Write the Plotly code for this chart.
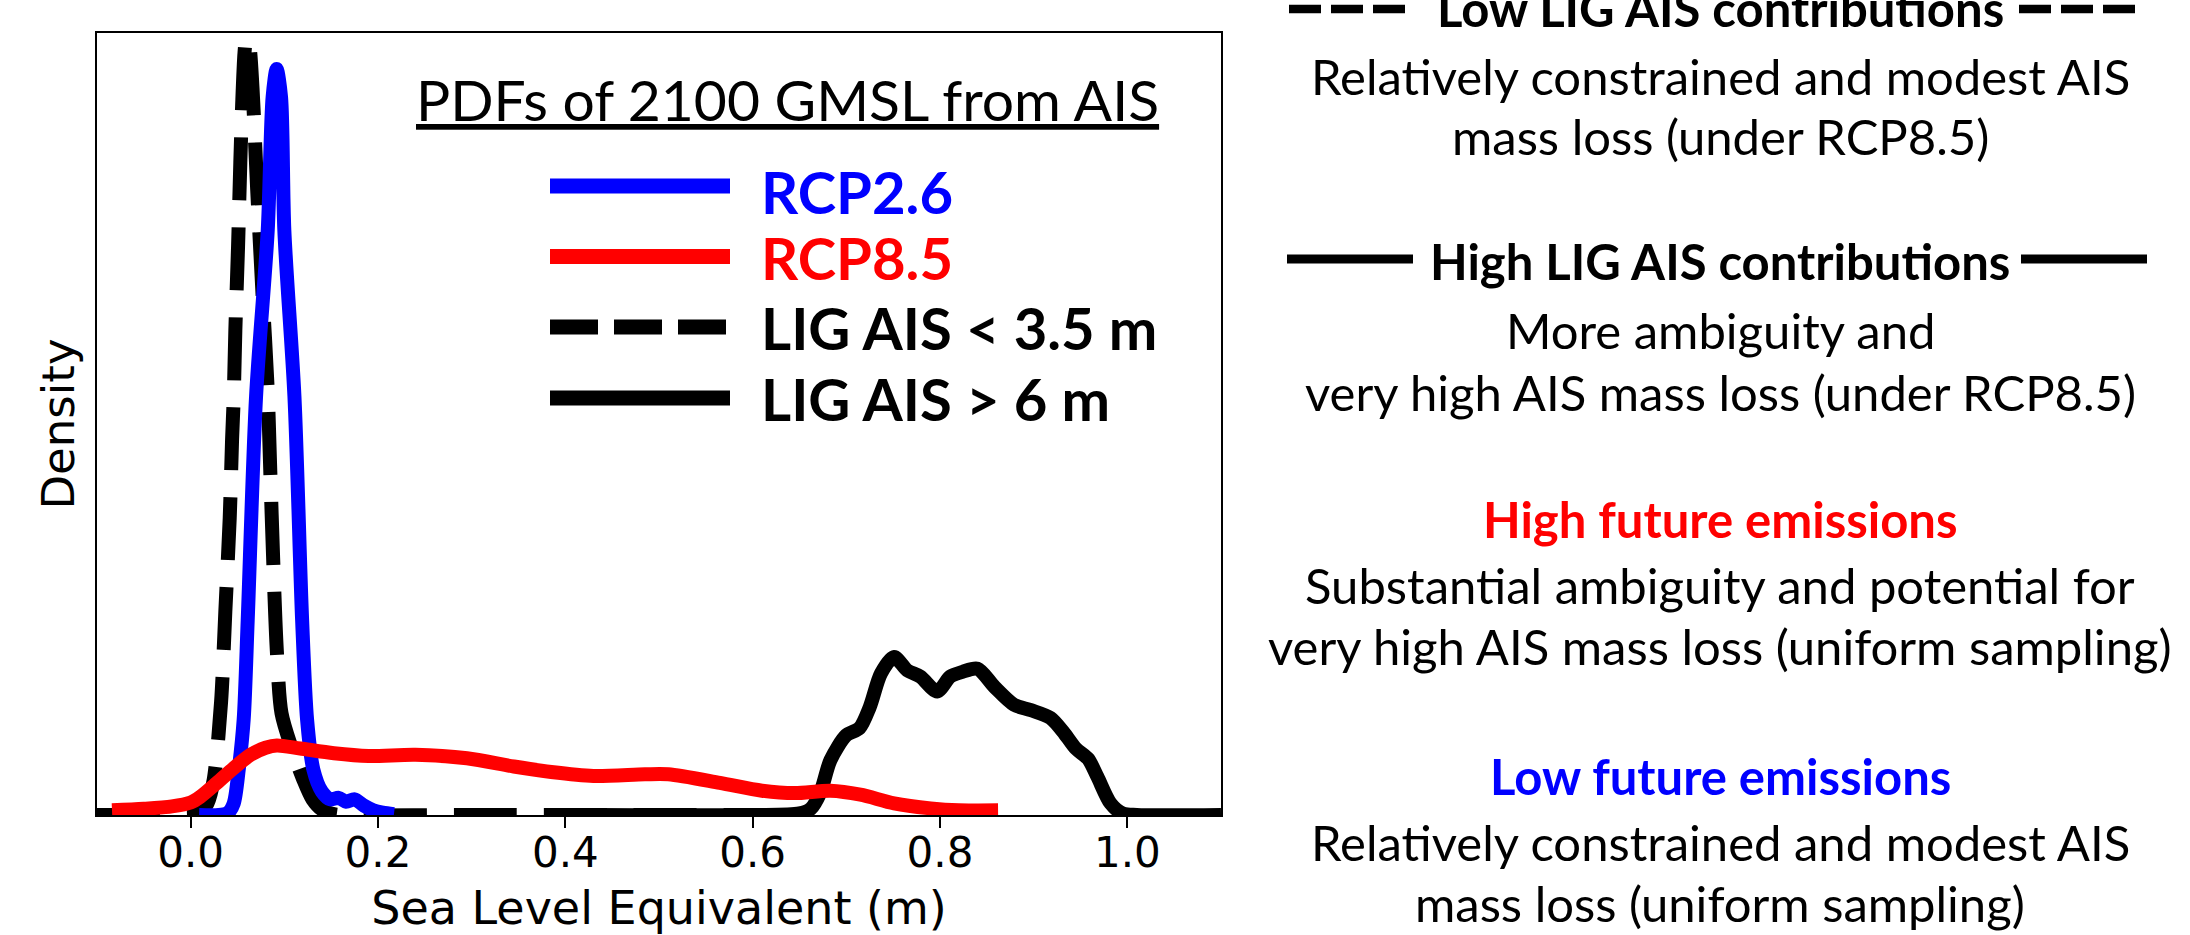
import plotly.graph_objects as go

W, H = 2190, 935

# ---------------- data (normalised density) ----------------
lig_low_x = [-0.100, -0.050, 0.000, 0.010, 0.018, 0.0246, 0.0325, 0.037, 0.0417, 0.0442, 0.046,
             0.0477, 0.0506, 0.053, 0.0549, 0.0575, 0.0595, 0.0625, 0.066, 0.071, 0.077, 0.082,
             0.085, 0.088, 0.092, 0.097, 0.108, 0.120, 0.130, 0.140, 0.150, 0.160, 0.300, 0.450, 0.640]
lig_low_y = [0.0, 0.0, 0.0, 0.003, 0.015, 0.045, 0.145, 0.26, 0.38, 0.48, 0.535,
             0.62, 0.727, 0.834, 0.906, 0.975, 0.995, 0.985, 0.93, 0.80, 0.66, 0.55,
             0.44, 0.33, 0.21, 0.13, 0.085, 0.046, 0.02, 0.007, 0.002, 0.0, 0.0, 0.0, 0.0]

lig_high_x = [0.431, 0.600, 0.650, 0.662, 0.672, 0.683, 0.700, 0.714, 0.725, 0.737, 0.751, 0.765,
              0.779, 0.797, 0.811, 0.824, 0.840, 0.858, 0.879, 0.897, 0.918, 0.933, 0.945, 0.958,
              0.968, 0.982, 0.995, 1.010, 1.100]
lig_high_y = [0.0, 0.0, 0.002, 0.008, 0.028, 0.070, 0.102, 0.111, 0.138, 0.181, 0.202, 0.185,
              0.177, 0.158, 0.177, 0.183, 0.187, 0.164, 0.141, 0.134, 0.124, 0.104, 0.085, 0.072,
              0.049, 0.015, 0.002, 0.0, 0.0]

rcp26_x = [0.009, 0.030, 0.040, 0.046, 0.0513, 0.0566, 0.0609, 0.0698, 0.0823, 0.0875, 0.0918,
           0.0965, 0.1000, 0.1108, 0.119, 0.1243, 0.131, 0.140, 0.149, 0.158, 0.166, 0.175,
           0.185, 0.195, 0.205, 0.217]
rcp26_y = [0.0, 0.0, 0.003, 0.015, 0.058, 0.122, 0.249, 0.535, 0.748, 0.918, 0.954,
           0.918, 0.748, 0.535, 0.249, 0.122, 0.058, 0.030, 0.020, 0.022, 0.017, 0.020,
           0.012, 0.006, 0.003, 0.001]

rcp85_x = [-0.084, -0.050, -0.020, 0.000, 0.010, 0.028, 0.046, 0.064, 0.080, 0.092, 0.117,
           0.153, 0.190, 0.240, 0.295, 0.345, 0.385, 0.430, 0.485, 0.510, 0.565, 0.610,
           0.645, 0.683, 0.715, 0.751, 0.790, 0.820, 0.862]
rcp85_y = [0.006, 0.008, 0.011, 0.016, 0.023, 0.041, 0.060, 0.077, 0.086, 0.089, 0.085,
           0.079, 0.0755, 0.077, 0.0725, 0.062, 0.055, 0.050, 0.052, 0.052, 0.041, 0.031,
           0.028, 0.031, 0.026, 0.015, 0.0085, 0.006, 0.006]

tick_vals = [0.0, 0.2, 0.4, 0.6, 0.8, 1.0]
tick_text = ["0.0", "0.2", "0.4", "0.6", "0.8", "1.0"]

legend_labels = ["RCP2.6", "RCP8.5", "LIG AIS &lt; 3.5 m", "LIG AIS &gt; 6 m"]
legend_title = "PDFs of 2100 GMSL from AIS"

panel_headings = ["Low LIG AIS contributions", "High LIG AIS contributions",
                  "High future emissions", "Low future emissions"]
panel_bodies = [
    ["Relatively constrained and modest AIS", "mass loss (under RCP8.5)"],
    ["More ambiguity and", "very high AIS mass loss (under RCP8.5)"],
    ["Substantial ambiguity and potential for", "very high AIS mass loss (uniform sampling)"],
    ["Relatively constrained and modest AIS", "mass loss (uniform sampling)"],
]

# ---------------- styling ----------------
BLUE, RED, BLACK = "#0000ff", "#ff0000", "#000000"
LW = 14
DASH = "63px,27px"
TICK_FONT = "DejaVu Sans, sans-serif"
TEXT_FONT = "Lato, 'Open Sans', sans-serif"


def fx(px):
    return px / W


def fy(py):
    return 1 - py / H


fig = go.Figure()
fig.add_trace(go.Scatter(x=lig_low_x, y=lig_low_y, mode="lines", name="LIG AIS < 3.5 m",
                         line=dict(color=BLACK, width=LW, dash=DASH, shape="spline", smoothing=0.8)))
fig.add_trace(go.Scatter(x=lig_high_x, y=lig_high_y, mode="lines", name="LIG AIS > 6 m",
                         line=dict(color=BLACK, width=LW, shape="spline", smoothing=0.8)))
fig.add_trace(go.Scatter(x=rcp26_x, y=rcp26_y, mode="lines", name="RCP2.6",
                         line=dict(color=BLUE, width=LW, shape="spline", smoothing=0.8)))
fig.add_trace(go.Scatter(x=rcp85_x, y=rcp85_y, mode="lines", name="RCP8.5",
                         line=dict(color=RED, width=LW, shape="spline", smoothing=0.8)))

shapes = []
annotations = []

# in-plot legend (custom, large swatches)
leg_colors = [BLUE, RED, BLACK, BLACK]
leg_dash = ["solid", "solid", "48px,16px", "solid"]
leg_y = [186, 256.5, 327, 398]
leg_text_dy = [5, 1, 0, 0]
for lab, col, dsh, yy, dy in zip(legend_labels, leg_colors, leg_dash, leg_y, leg_text_dy):
    shapes.append(dict(type="line", xref="paper", yref="paper", x0=fx(550), x1=fx(730),
                       y0=fy(yy), y1=fy(yy), line=dict(color=col, width=15, dash=dsh)))
    annotations.append(dict(text="<b>%s</b>" % lab, xref="paper", yref="paper", x=fx(759), y=fy(yy + dy),
                            xanchor="left", yanchor="middle", showarrow=False,
                            font=dict(family=TEXT_FONT, size=58, color=col)))

annotations.append(dict(text=legend_title, xref="paper", yref="paper", x=fx(787), y=fy(99),
                        xanchor="center", yanchor="middle", showarrow=False,
                        font=dict(family=TEXT_FONT, size=57, color=BLACK, lineposition="under")))

# right-hand explanatory panel
head_colors = [BLACK, BLACK, RED, BLUE]
head_y = [8, 261, 519, 776]
body_y = [[76, 136], [330, 392], [585, 646], [842, 903]]
CX = 1720
for head, col, hy, lines, bys in zip(panel_headings, head_colors, head_y, panel_bodies, body_y):
    annotations.append(dict(text="<b>%s</b>" % head, xref="paper", yref="paper", x=fx(CX), y=fy(hy),
                            xanchor="center", yanchor="middle", showarrow=False,
                            font=dict(family=TEXT_FONT, size=49, color=col)))
    for ln, by in zip(lines, bys):
        annotations.append(dict(text=ln, xref="paper", yref="paper", x=fx(CX), y=fy(by),
                                xanchor="center", yanchor="middle", showarrow=False,
                                font=dict(family=TEXT_FONT, size=49, color=BLACK)))

for (a, b) in [(1289, 1406), (2019, 2136)]:
    shapes.append(dict(type="line", xref="paper", yref="paper", x0=fx(a), x1=fx(b), y0=fy(9), y1=fy(9),
                       line=dict(color=BLACK, width=8.5, dash="32px,10px")))
for (a, b) in [(1287, 1413), (2021, 2147)]:
    shapes.append(dict(type="line", xref="paper", yref="paper", x0=fx(a), x1=fx(b), y0=fy(259), y1=fy(259),
                       line=dict(color=BLACK, width=9)))

fig.update_layout(
    width=W, height=H,
    margin=dict(l=0, r=0, t=0, b=0),
    paper_bgcolor="white", plot_bgcolor="white",
    showlegend=False,
    shapes=shapes, annotations=annotations,
    xaxis=dict(domain=[fx(97), fx(1221)], range=[-0.1, 1.1], showgrid=False, zeroline=False,
               showline=True, mirror=True, linecolor=BLACK, linewidth=2,
               ticks="outside", ticklen=11, tickwidth=2, tickcolor=BLACK,
               tickvals=tick_vals, ticktext=tick_text, automargin=False,
               ticklabelstandoff=-11,
               tickfont=dict(family=TICK_FONT, size=42, color=BLACK),
               title=dict(text="Sea Level Equivalent (m)", standoff=20,
                          font=dict(family=TICK_FONT, size=46, color=BLACK))),
    yaxis=dict(domain=[fy(815), fy(33)], range=[0, 1.0], showgrid=False, zeroline=False,
               showline=True, mirror=True, linecolor=BLACK, linewidth=2,
               ticks="", showticklabels=False, automargin=False,
               title=dict(text="Density", standoff=6,
                          font=dict(family=TICK_FONT, size=45, color=BLACK))),
)

fig.write_html("out.html", config={"displayModeBar": False},
               post_script="document.body.style.margin='0px';document.body.style.overflow='hidden';")
